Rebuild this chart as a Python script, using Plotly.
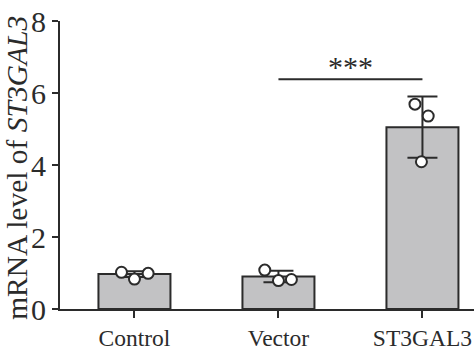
import plotly.graph_objects as go

categories = ["Control", "Vector", "ST3GAL3"]
means = [0.97, 0.90, 5.05]
errors = [0.08, 0.16, 0.85]
points_control = [1.02, 0.83, 0.99]
points_vector = [1.08, 0.79, 0.82]
points_st3 = [5.69, 5.36, 4.09]
jitter_control = [-0.09, 0.0, 0.095]
jitter_vector = [-0.095, 0.0, 0.09]
jitter_st3 = [-0.052, 0.04, -0.007]
y_ticks = [0, 2, 4, 6, 8]
sig_level = 6.38
sig_label = "***"

FONT = "Liberation Serif"
DARK = "#2b2b2b"

xpos = list(range(len(categories)))

fig = go.Figure()
fig.add_trace(go.Bar(
    x=xpos, y=means, width=0.5,
    marker=dict(color="#c2c2c4", line=dict(color=DARK, width=2)),
    error_y=dict(type="data", array=errors, visible=True, color=DARK, thickness=2, width=15),
    showlegend=False,
))

all_pts = [(points_control, jitter_control, 0), (points_vector, jitter_vector, 1), (points_st3, jitter_st3, 2)]
for pts, jit, c in all_pts:
    fig.add_trace(go.Scatter(
        x=[c + j for j in jit], y=pts, mode="markers",
        marker=dict(symbol="circle", size=11, color="white", line=dict(color=DARK, width=2)),
        showlegend=False, cliponaxis=False,
    ))

fig.add_shape(type="line", x0=1, x1=2, y0=sig_level, y1=sig_level, xref="x", yref="y",
              line=dict(color=DARK, width=2))
fig.add_annotation(x=1.5, y=sig_level, yshift=13, text=sig_label, showarrow=False,
                   font=dict(family=FONT, size=30, color=DARK), xref="x", yref="y")

fig.add_annotation(text="mRNA level of <i>ST3GAL3</i>", xref="paper", yref="paper",
                   x=-0.104, y=0.49, xanchor="center", yanchor="middle", textangle=-90,
                   showarrow=False, font=dict(family=FONT, size=29.5, color=DARK))

fig.update_layout(
    width=474, height=351,
    margin=dict(l=60, r=0, t=21, b=42),
    plot_bgcolor="white", paper_bgcolor="white",
    bargap=0.5,
)
fig.update_xaxes(
    range=[-0.517, 2.358], tickvals=xpos, ticktext=categories,
    showline=True, linecolor=DARK, linewidth=2,
    ticks="outside", ticklen=7, tickwidth=2, tickcolor=DARK,
    tickfont=dict(family=FONT, size=23.5, color=DARK),
    showgrid=False, zeroline=False,
)
fig.update_yaxes(
    range=[0, 8], tickvals=y_ticks,
    showline=True, linecolor=DARK, linewidth=2,
    ticks="outside", ticklen=6, tickwidth=2, tickcolor=DARK,
    tickfont=dict(family=FONT, size=30, color=DARK),
    showgrid=False, zeroline=False,
)

fig.write_html("out.html")
